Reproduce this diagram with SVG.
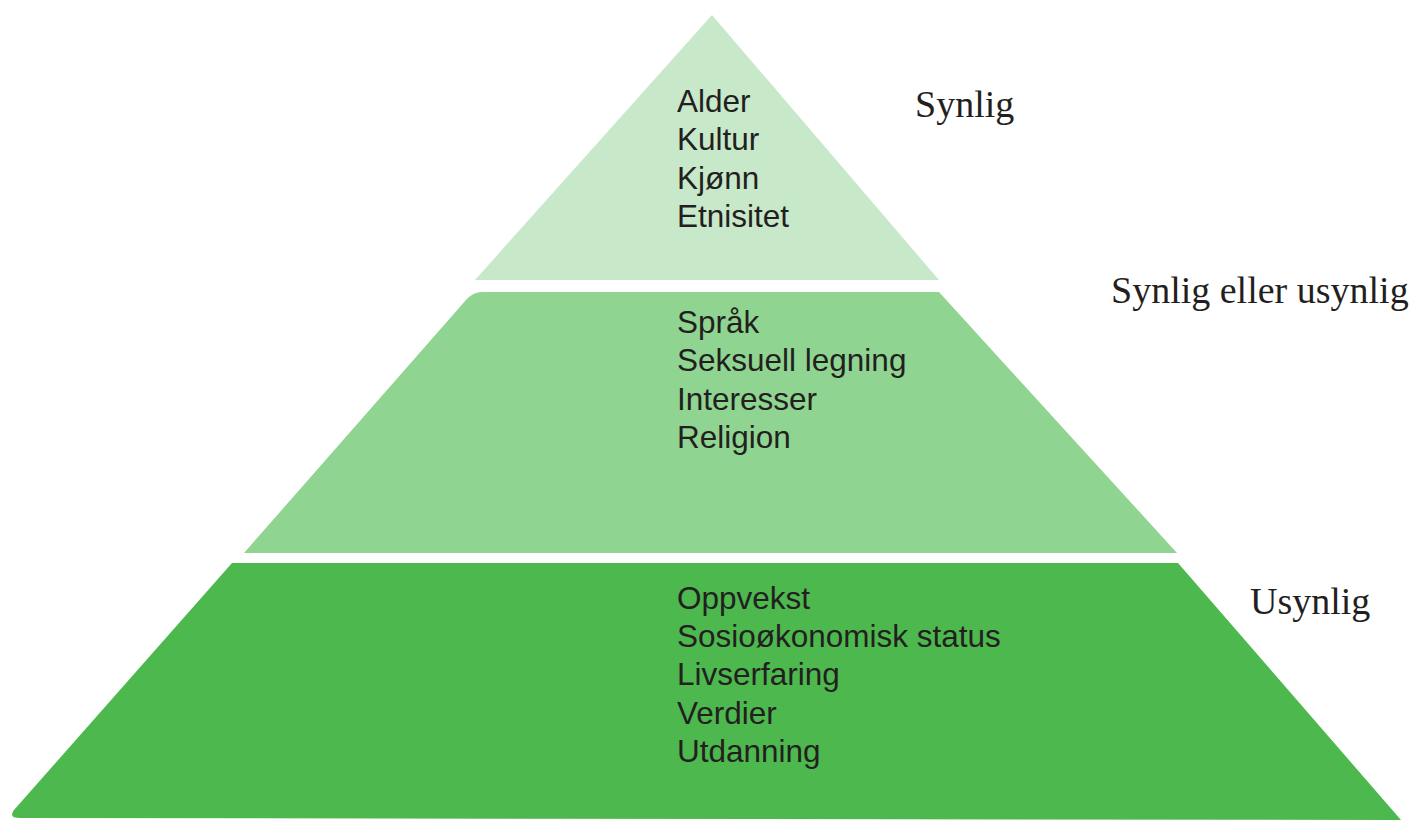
<svg xmlns="http://www.w3.org/2000/svg" width="1415" height="821" viewBox="0 0 1415 821">
<style>
.item{font-family:"Liberation Sans",Arial,sans-serif;font-size:31.5px;fill:#231f20}
.lbl{font-family:"Liberation Serif","Times New Roman",serif;font-size:38px;fill:#231f20}
</style>
<rect width="1415" height="821" fill="#ffffff"/>
<g id="level-top">
<polygon points="712,15 939,280 475,280" fill="#c8e8ca"/>
<text class="item" x="677" y="112">Alder</text>
<text class="item" x="677" y="150">Kultur</text>
<text class="item" x="677" y="189">Kjønn</text>
<text class="item" x="677" y="227">Etnisitet</text>
</g>
<g id="level-middle">
<path d="M482,292 L939,292 L1177,553 L244,553 L466,300 Q473,292 482,292 Z" fill="#8fd491"/>
<text class="item" x="677" y="333">Språk</text>
<text class="item" x="677" y="371">Seksuell legning</text>
<text class="item" x="677" y="410">Interesser</text>
<text class="item" x="677" y="448">Religion</text>
</g>
<g id="level-bottom">
<path d="M232,563 L1178,563 L1401,820 L20,818 Q8,818 14,810 Z" fill="#4cb84e"/>
<text class="item" x="677" y="609">Oppvekst</text>
<text class="item" x="677" y="647">Sosioøkonomisk status</text>
<text class="item" x="677" y="685">Livserfaring</text>
<text class="item" x="677" y="724">Verdier</text>
<text class="item" x="677" y="762">Utdanning</text>
</g>
<g id="labels">
<text class="lbl" x="915" y="117">Synlig</text>
<text class="lbl" x="1111" y="303">Synlig eller usynlig</text>
<text class="lbl" x="1250" y="614">Usynlig</text>
</g>
<g id="connectors"/>
</svg>
